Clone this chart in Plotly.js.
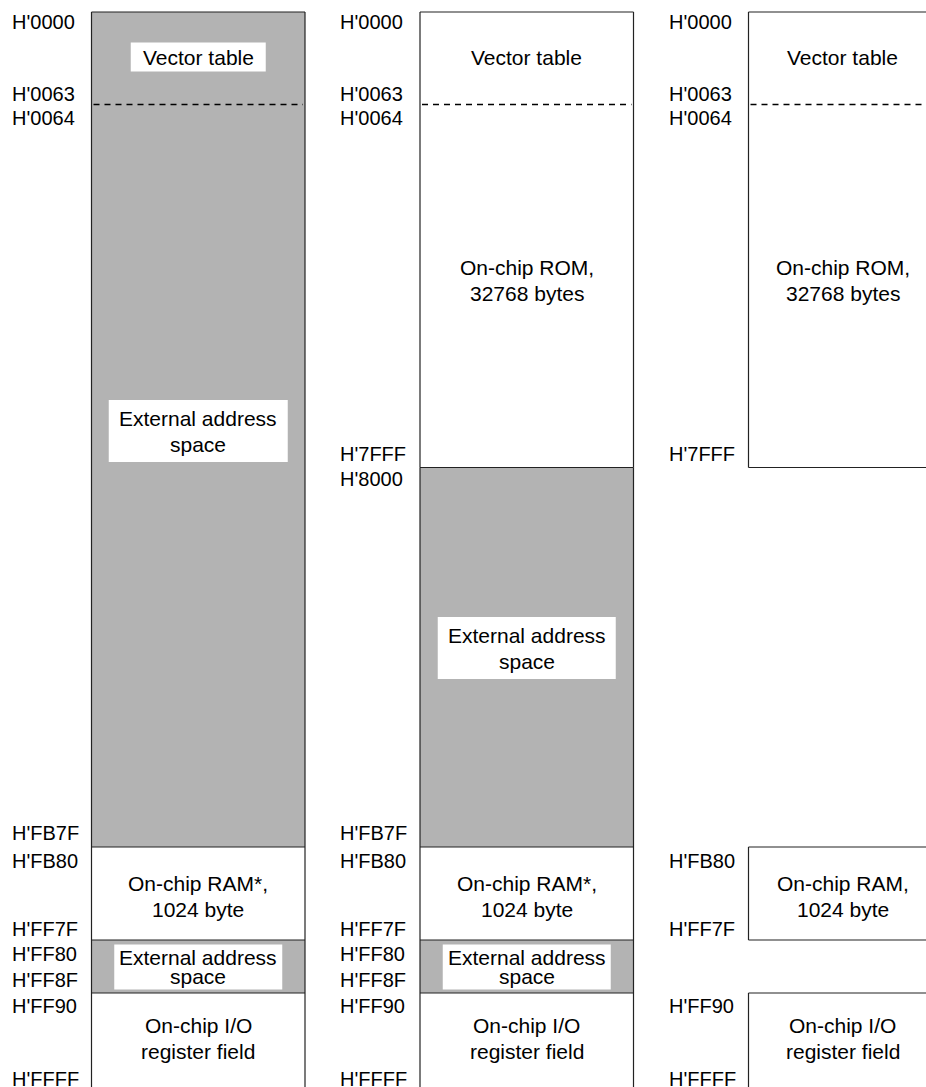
<!DOCTYPE html>
<html>
<head>
<meta charset="utf-8">
<script src="https://cdn.plot.ly/plotly-3.0.1.min.js"></script>
<style>html,body{margin:0;padding:0;background:#fff;}#chart{width:926px;height:1087px;}</style>
</head>
<body>
<div id="chart"></div>
<script>
// ---------------- DATA ----------------
const modeNames = ["Mode 1", "Mode 2", "Mode 3"];

const mode1Start = ["H'0000", "H'0064", "H'FB80", "H'FF80", "H'FF90"];
const mode1End   = ["H'0063", "H'FB7F", "H'FF7F", "H'FF8F", "H'FFFF"];
const mode1Label = ["Vector table", "External address|space", "On-chip RAM*,|1024 byte", "External address|space", "On-chip I/O|register field"];
const mode1Kind  = ["external", "external", "internal", "external", "internal"];

const mode2Start = ["H'0000", "H'0064", "H'8000", "H'FB80", "H'FF80", "H'FF90"];
const mode2End   = ["H'0063", "H'7FFF", "H'FB7F", "H'FF7F", "H'FF8F", "H'FFFF"];
const mode2Label = ["Vector table", "On-chip ROM,|32768 bytes", "External address|space", "On-chip RAM*,|1024 byte", "External address|space", "On-chip I/O|register field"];
const mode2Kind  = ["internal", "internal", "external", "internal", "external", "internal"];

const mode3Start = ["H'0000", "H'0064", "H'FB80", "H'FF90"];
const mode3End   = ["H'0063", "H'7FFF", "H'FF7F", "H'FFFF"];
const mode3Label = ["Vector table", "On-chip ROM,|32768 bytes", "On-chip RAM,|1024 byte", "On-chip I/O|register field"];
const mode3Kind  = ["internal", "internal", "internal", "internal"];

// ---------------- LAYOUT (schematic, non-linear address scale) ----------------
const W = 926, H = 1087;
const colX = [91.5, 420, 748.5];
const colW = [213.5, 213.5, 188];
const edgeY = { // schematic position of region edges
  "H'0000": 12, "H'0063": 104, "H'0064": 104, "H'7FFF": 467.5, "H'8000": 467.5,
  "H'FB7F": 847, "H'FB80": 847, "H'FF7F": 940, "H'FF80": 940, "H'FF8F": 993,
  "H'FF90": 993, "H'FFFF": 1110
};
const addrLabelY = {
  "H'0000": 22, "H'0063": 94, "H'0064": 118, "H'7FFF": 454, "H'8000": 479,
  "H'FB7F": 833, "H'FB80": 861, "H'FF7F": 929, "H'FF80": 954, "H'FF8F": 980,
  "H'FF90": 1006, "H'FFFF": 1079
};
const dashedTop = ["H'0064"];
const textCenterY = { // region label centre, keyed by column|start
  "0|H'0000": 57, "0|H'0064": 431, "0|H'FB80": 896, "0|H'FF80": 967, "0|H'FF90": 1038,
  "1|H'0000": 57, "1|H'0064": 280, "1|H'8000": 648, "1|H'FB80": 896, "1|H'FF80": 967, "1|H'FF90": 1038,
  "2|H'0000": 57, "2|H'0064": 280, "2|H'FB80": 896, "2|H'FF90": 1038
};
const boxSize = { // white label backgrounds on shaded regions
  "0|H'0000": [135, 29], "0|H'0064": [179, 62], "0|H'FF80": [168, 45],
  "1|H'8000": [178, 62], "1|H'FF80": [168, 45]
};
const lineGap = { "0|H'FF80": 19.5, "1|H'FF80": 19.5 };

const GREY = "#b3b3b3", EDGE = "#222222";
const FONT = "Liberation Sans, Arial, Helvetica, sans-serif";
const FS_ADDR = 20, FS_REGION = 21;

const modes = [
  { start: mode1Start, end: mode1End, label: mode1Label, kind: mode1Kind },
  { start: mode2Start, end: mode2End, label: mode2Label, kind: mode2Kind },
  { start: mode3Start, end: mode3End, label: mode3Label, kind: mode3Kind }
];

const shapes = [];
const annotations = [];

function line(x0, y0, x1, y1, dash, color, width) {
  shapes.push({ type: "line", xref: "x", yref: "y", x0, y0, x1, y1,
    line: { color: color || EDGE, width: width || 1.2, dash: dash || "solid" }, layer: "above" });
}
function text(x, y, t, anchor, size) {
  annotations.push({ xref: "x", yref: "y", x, y, text: t, showarrow: false,
    xanchor: anchor || "center", yanchor: "middle",
    font: { family: FONT, size: size, color: "#000" }, borderpad: 0 });
}

modes.forEach((m, c) => {
  const x0 = colX[c], x1 = colX[c] + colW[c];
  const xc = (x0 + x1) / 2;
  // fills
  m.start.forEach((s, i) => {
    const y0 = edgeY[s], y1 = edgeY[m.end[i]];
    shapes.push({ type: "rect", xref: "x", yref: "y", x0, x1, y0, y1,
      fillcolor: m.kind[i] === "external" ? GREY : "#ffffff",
      line: { width: 0 }, layer: "below" });
  });
  // edges
  m.start.forEach((s, i) => {
    const y0 = edgeY[s], y1 = edgeY[m.end[i]];
    line(x0, y0, x0, y1);
    line(x1, y0, x1, y1);
    const dashed = dashedTop.includes(s);
    if (dashed) line(x0 + 2, y0 + 0.5, x1 - 2, y0 + 0.5, "6px,5px", "#000000", 1.3);
    else line(x0, y0, x1, y0);
    const next = m.start[i + 1];
    if (!next || edgeY[next] !== y1) line(x0, y1, x1, y1);
  });
  // label backgrounds
  m.start.forEach((s, i) => {
    const key = c + "|" + s;
    if (boxSize[key]) {
      const [bw, bh] = boxSize[key];
      const yc = textCenterY[key];
      shapes.push({ type: "rect", xref: "x", yref: "y",
        x0: xc - bw / 2, x1: xc + bw / 2, y0: yc - bh / 2, y1: yc + bh / 2,
        fillcolor: "#ffffff", line: { width: 0 }, layer: "above" });
    }
  });
  // region labels
  m.start.forEach((s, i) => {
    const key = c + "|" + s;
    const lines = m.label[i].split("|");
    const gap = lineGap[key] || 26;
    const yc = textCenterY[key];
    lines.forEach((t, k) => {
      text(xc, yc + (k - (lines.length - 1) / 2) * gap, t, "center", FS_REGION);
    });
  });
  // address labels
  const addrs = [];
  m.start.forEach((s, i) => { addrs.push(s); addrs.push(m.end[i]); });
  addrs.forEach(a => text(x0 - 81, addrLabelY[a], a, "left", FS_ADDR));
});

const layout = {
  width: W, height: H,
  margin: { l: 0, r: 0, t: 0, b: 0 },
  paper_bgcolor: "#ffffff", plot_bgcolor: "#ffffff",
  xaxis: { range: [0, W], visible: false, fixedrange: true },
  yaxis: { range: [H, 0], visible: false, fixedrange: true },
  showlegend: false,
  shapes, annotations
};

Plotly.newPlot("chart", [{ x: [], y: [], type: "scatter", mode: "markers", hoverinfo: "skip" }], layout,
  { displayModeBar: false, staticPlot: true });
</script>
</body>
</html>
